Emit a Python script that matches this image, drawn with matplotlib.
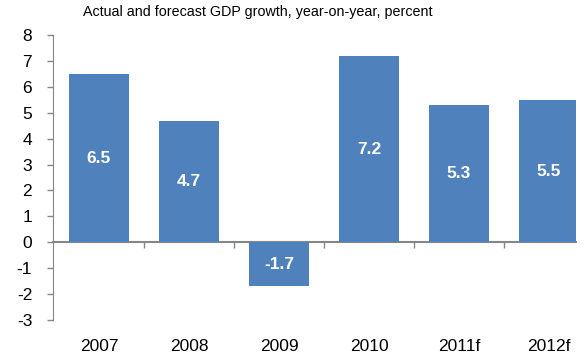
import matplotlib.pyplot as plt

plt.rcParams['font.family'] = ['Liberation Sans', 'DejaVu Sans']
plt.rcParams['axes.unicode_minus'] = False

# data
years = ['2007', '2008', '2009', '2010', '2011f', '2012f']
growth = [6.5, 4.7, -1.7, 7.2, 5.3, 5.5]

fig = plt.figure(figsize=(5.84, 3.6), dpi=100)
W, H = 584, 360
ax = fig.add_axes([53 / W, 40 / H, (576 - 53) / W, (320 - 35) / H])

x = range(len(years))
bars = ax.bar(x, growth, width=0.667, color='#4F81BD', zorder=2)

for xi, v in zip(x, growth):
    ax.text(xi, v / 2, f'{v:.1f}', ha='center', va='center', color='white',
            fontsize=12.5, fontweight='bold', zorder=3)

ax.set_xlim(-0.51, 5.3)
ax.set_ylim(-3, 8)
ax.set_yticks(range(-3, 9))
ax.tick_params(axis='y', labelsize=12.5, length=4, width=1, color='#868686', pad=11)

# category labels under the plot
ax.set_xticks(list(x))
ax.set_xticklabels(years, fontsize=12.5)
ax.tick_params(axis='x', length=0, pad=14)

for s in ['top', 'right', 'bottom']:
    ax.spines[s].set_visible(False)
ax.spines['left'].set_color('#868686')

# zero line with ticks between categories
zero = ax.secondary_xaxis(3 / 11)
zero.set_xticks([i + 0.5 for i in range(len(years) - 1)])
zero.set_xticklabels([])
zero.tick_params(length=4, width=1, color='#868686')
zero.spines['bottom'].set_color('#868686')
zero.spines['bottom'].set_linewidth(1.5)

fig.text(258 / W, 1 - 12 / H, 'Actual and forecast GDP growth, year-on-year, percent',
         ha='center', va='center', fontsize=10.3)

fig.savefig('out.png', dpi=100)
